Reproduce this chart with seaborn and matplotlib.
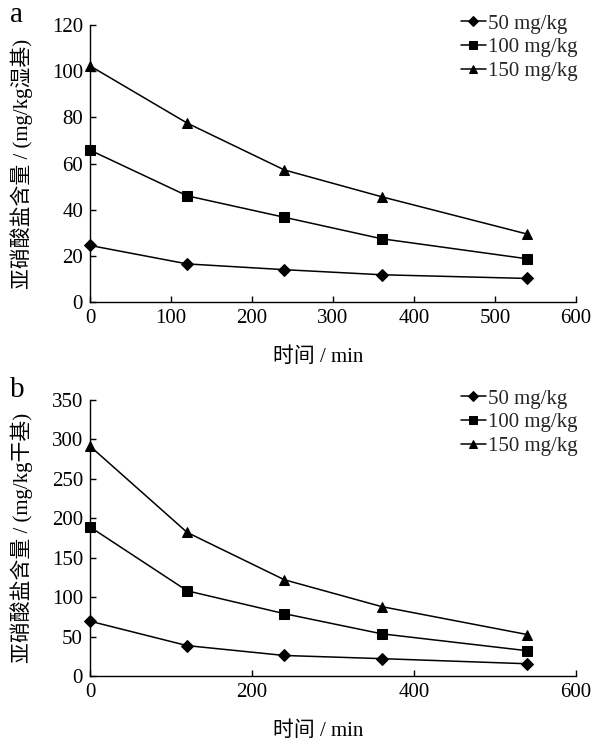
import numpy as np
import pandas as pd
import matplotlib
matplotlib.use("Agg")
import matplotlib.pyplot as plt
import seaborn as sns

# ---- data ----
time_min = [0, 120, 240, 360, 540]
series_labels = ["50 mg/kg", "100 mg/kg", "150 mg/kg"]
wet_50 = [24.5, 16.5, 14.0, 11.8, 10.2]
wet_100 = [65.8, 46.0, 36.7, 27.4, 18.7]
wet_150 = [102.3, 77.5, 57.2, 45.6, 29.4]
dry_50 = [69.5, 38.5, 26.0, 22.0, 15.5]
dry_100 = [189.0, 108.0, 79.0, 53.5, 32.0]
dry_150 = [291.5, 182.0, 122.0, 88.0, 52.5]
x_ticks_a = [0, 100, 200, 300, 400, 500, 600]
y_ticks_a = [0, 20, 40, 60, 80, 100, 120]
x_ticks_b = [0, 200, 400, 600]
y_ticks_b = [0, 50, 100, 150, 200, 250, 300, 350]
xlabel = "时间 / min"
ylabel_a = "亚硝酸盐含量 / (mg/kg湿基)"
ylabel_b = "亚硝酸盐含量 / (mg/kg干基)"


def long_df(s50, s100, s150):
    rows = []
    for lab, vals in zip(series_labels, [s50, s100, s150]):
        for t, v in zip(time_min, vals):
            rows.append({"time": t, "value": v, "conc": lab})
    return pd.DataFrame(rows)


df_a = long_df(wet_50, wet_100, wet_150)
df_b = long_df(dry_50, dry_100, dry_150)

sns.set_theme(style="ticks")
plt.rcParams["font.family"] = ["Liberation Serif", "Noto Sans CJK SC"]
plt.rcParams["axes.unicode_minus"] = False

fig = plt.figure(figsize=(5.94, 7.40), dpi=100)
ax_a = fig.add_axes([0.1515, 0.5919, 0.8182, 0.3743])
ax_b = fig.add_axes([0.1515, 0.0865, 0.8182, 0.3730])

markers = {"50 mg/kg": "D", "100 mg/kg": "s", "150 mg/kg": "^"}
palette = {k: "black" for k in series_labels}
FS = 15

for ax, df, xt, yt, ylab, letter in [
    (ax_a, df_a, x_ticks_a, y_ticks_a, ylabel_a, "a"),
    (ax_b, df_b, x_ticks_b, y_ticks_b, ylabel_b, "b"),
]:
    sns.lineplot(data=df, x="time", y="value", hue="conc", style="conc",
                 markers=markers, dashes=False, palette=palette,
                 markersize=6.5, linewidth=1.1, markeredgecolor="black",
                 ax=ax, legend=True, clip_on=False)
    ax.set_xlim(xt[0], xt[-1])
    ax.set_ylim(yt[0], yt[-1])
    ax.set_xticks(xt)
    ax.set_yticks(yt)
    ax.tick_params(direction="in", length=4, width=1, labelsize=FS,
                   colors="black", pad=5)
    for s in ["top", "right"]:
        ax.spines[s].set_visible(False)
    for s in ["left", "bottom"]:
        ax.spines[s].set_color("black")
        ax.spines[s].set_linewidth(1)
    ax.set_xlabel(xlabel, fontsize=FS, color="black")
    ax.set_ylabel(ylab, fontsize=FS, color="black")
    ax.xaxis.set_label_coords(0.47, -0.165)
    ax.yaxis.set_label_coords(-0.118, 0.5)
    leg = ax.legend(loc="upper right", bbox_to_anchor=(1.02, 1.07),
                    frameon=False, fontsize=FS, handlelength=1.2,
                    handletextpad=0.1, labelspacing=0.2, borderaxespad=0,
                    markerscale=0.85)
    ax.text(-0.165, 1.035, letter, transform=ax.transAxes, fontsize=21,
            ha="left", va="center", color="black")

fig.savefig("out.png", dpi=100)
